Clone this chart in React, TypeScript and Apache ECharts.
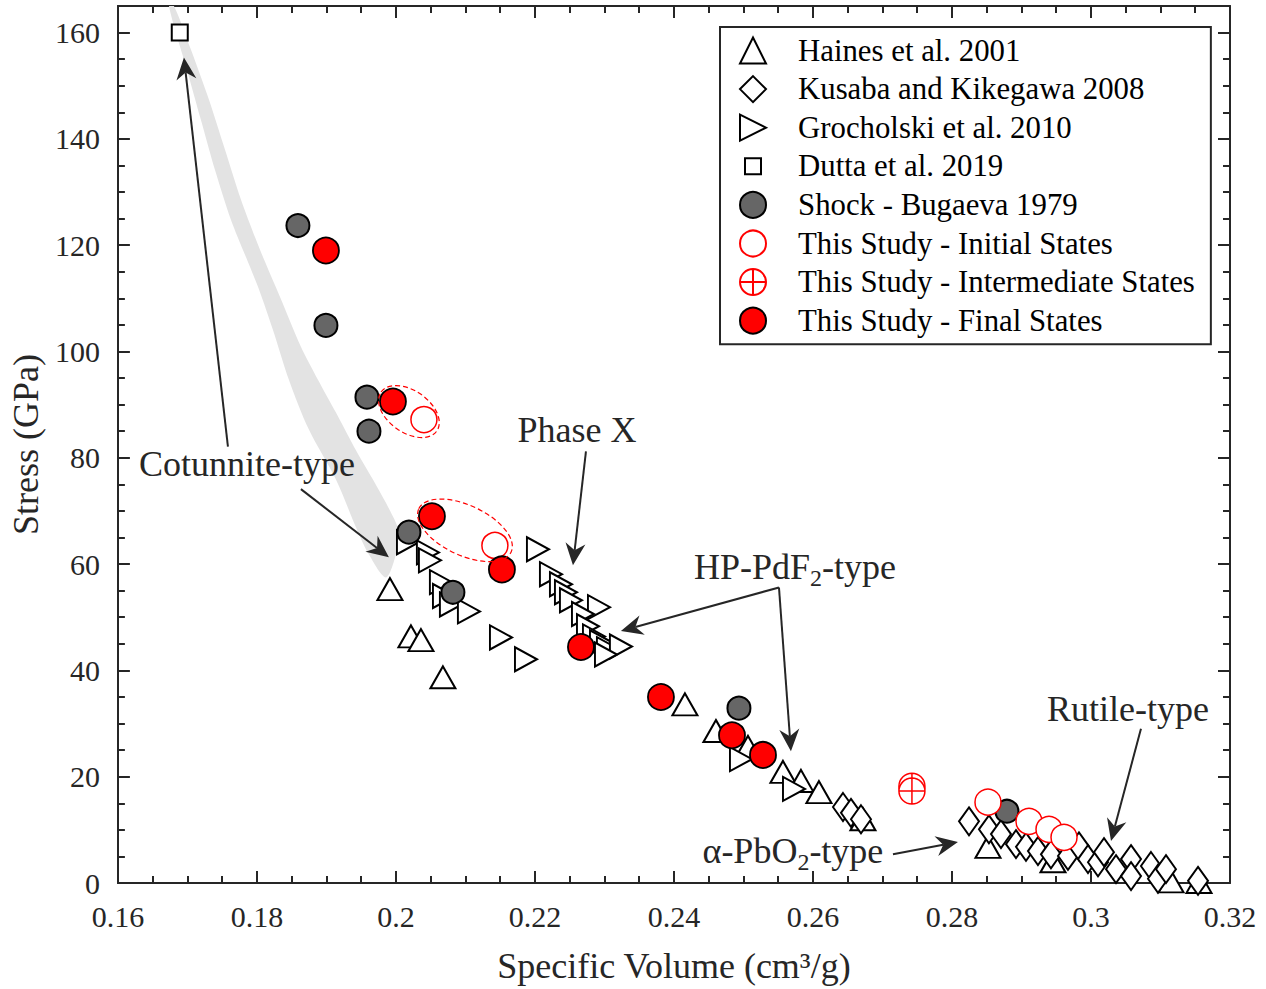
import React, { useEffect, useRef } from 'react';
import * as echarts from 'echarts';

const FONT = '"Liberation Serif", "Times New Roman", serif';
const AX = '#262626';

// ---- data (specific volume cm3/g, stress GPa) ----
const hainesData = [
  [0.19914, 55.3], [0.20216, 46.4], [0.2036, 45.7], [0.20676, 38.7],
  [0.24158, 33.6], [0.24604, 28.6], [0.25065, 25.6], [0.25568, 20.9],
  [0.25827, 19.2], [0.26086, 17.1], [0.26719, 12.0], [0.28518, 6.8],
  [0.29453, 4.1], [0.31151, 0.3], [0.31554, 0.2],
];
const kusabaData = [
  [0.26432, 14.3], [0.26547, 13.2], [0.26691, 12.0],
  [0.28245, 11.6], [0.28532, 10.1], [0.28705, 9.2], [0.28921, 7.3],
  [0.29065, 6.8], [0.29237, 6.0], [0.29424, 5.4], [0.29669, 5.1],
  [0.29827, 6.9], [0.29957, 4.5], [0.30101, 3.9], [0.30187, 5.8],
  [0.3036, 2.6], [0.30576, 4.5], [0.30576, 1.3], [0.30863, 3.2],
  [0.30964, 0.8], [0.31079, 2.6], [0.3154, 0.4],
];
const grocholskiData = [
  [0.20173, 64.1], [0.2046, 62.2], [0.20489, 60.7], [0.20647, 56.6],
  [0.20691, 54.0], [0.20791, 52.4], [0.2105, 51.1], [0.21511, 46.2],
  [0.21871, 42.1], [0.22043, 62.8], [0.2223, 58.1], [0.22374, 56.2],
  [0.22446, 54.7], [0.22518, 53.2], [0.22921, 51.9], [0.22691, 50.6],
  [0.22763, 48.3], [0.22849, 46.4], [0.2295, 45.3], [0.2305, 44.0],
  [0.23237, 44.5], [0.23022, 43.0], [0.24964, 23.3], [0.25727, 17.7],
];
const duttaData = [[0.1689, 160.0]];
const shockData = [
  [0.1859, 123.7], [0.18993, 104.9], [0.19583, 91.4], [0.19612, 85.0],
  [0.20187, 66.0], [0.2082, 54.7], [0.24935, 32.9], [0.28791, 13.5],
];
const initialData = [
  [0.20403, 87.2], [0.21424, 63.5], [0.28518, 15.2], [0.29108, 11.6],
  [0.29396, 10.1], [0.29612, 8.6],
];
const intermediateData = [[0.27424, 18.2], [0.27424, 17.3]];
const finalData = [
  [0.18993, 119.0], [0.19957, 90.6], [0.20518, 69.0], [0.21525, 59.0],
  [0.22662, 44.4], [0.23813, 35.0], [0.24835, 27.8], [0.25281, 24.1],
];

// grey cotunnite band (edges)
const shadeLeft = [
  [0.16734, 165.0], [0.16993, 153.0], [0.17194, 143.6], [0.17396, 134.2],
  [0.17626, 124.8], [0.17885, 116.4], [0.18029, 111.7], [0.1823, 104.1],
  [0.1846, 94.7], [0.18748, 85.3], [0.19137, 75.9], [0.19439, 66.5],
  [0.19612, 61.8], [0.19856, 57.5],
];
const shadeRight = [
  [0.16806, 165.0], [0.1705, 156.8], [0.17309, 147.4], [0.1754, 138.0],
  [0.1777, 128.6], [0.18043, 119.2], [0.18331, 110.3], [0.18633, 100.9],
  [0.18878, 94.7], [0.19137, 88.5], [0.19396, 82.1], [0.19669, 75.9],
  [0.19928, 69.7], [0.20043, 66.0], [0.2, 61.8],
];

const xTicks = { min: 0.16, max: 0.32, interval: 0.02 };
const yTicks = { min: 0, max: 165, interval: 20, minor: 5 };

const legendNames = [
  'Haines et al. 2001',
  'Kusaba and Kikegawa 2008',
  'Grocholski et al. 2010',
  'Dutta et al. 2019',
  'Shock - Bugaeva 1979',
  'This Study - Initial States',
  'This Study - Intermediate States',
  'This Study - Final States',
];

// annotations (data coordinates)
const arrows = [
  { from: [0.17583, 82.1], to: [0.1695, 155.3] },
  { from: [0.18633, 74.1], to: [0.19899, 61.3] },
  { from: [0.22734, 81.2], to: [0.22547, 59.8] },
  { from: [0.25511, 55.6], to: [0.23237, 47.4] },
  { from: [0.25511, 55.6], to: [0.25683, 24.8] },
  { from: [0.30719, 29.0], to: [0.30288, 7.9] },
  { from: [0.27151, 5.4], to: [0.28086, 7.7] },
];
const labels = [
  { pos: [0.17856, 78.8], text: '{a|Cotunnite-type}' },
  { pos: [0.22604, 85.3], text: '{a|Phase X}' },
  { pos: [0.25741, 59.4], text: '{a|HP-PdF}{s|2}{a|-type}' },
  { pos: [0.25712, 6.0], text: '{a|α-PbO}{s|2}{a|-type}' },
  { pos: [0.30532, 32.7], text: '{a|Rutile-type}' },
];
const ellipses = [
  { center: [0.20187, 88.7], rx: 34, ry: 21, angle: 35 },
  { center: [0.20993, 66.35], rx: 51, ry: 25, angle: 25 },
];

const RIGHT_TRI = 'path://M0,0L1,0.5L0,1Z';
const CIRCLE_PLUS =
  'path://M0,12A12,12 0 1,1 24,12A12,12 0 1,1 0,12Z M12,0L12,24 M0,12L24,12';
const SMALL_SQUARE = 'path://M-5,-5M0,0L16,0L16,16L0,16Z M21,21';

function scatter(name: string, data: number[][], symbol: string, size: any, fill: string, stroke: string, bw: number) {
  return {
    type: 'scatter',
    name,
    data,
    symbol,
    symbolSize: size,
    itemStyle: { color: fill, borderColor: stroke, borderWidth: bw, opacity: 1 },
    emphasis: { disabled: true },
    silent: true,
    z: 3,
  };
}

function yAxisDef(position: string, interval: number, tickLen: number, main: boolean) {
  return {
    type: 'value',
    position,
    min: yTicks.min,
    max: yTicks.max,
    interval,
    axisLine: { show: main, onZero: false, lineStyle: { color: AX, width: 2 } },
    axisTick: { show: true, inside: true, length: tickLen, lineStyle: { color: AX, width: 2 } },
    axisLabel: {
      show: main && position === 'left',
      showMaxLabel: false,
      margin: 18,
      fontFamily: FONT,
      fontSize: 30,
      color: AX,
    },
    splitLine: { show: false },
    ...(main && position === 'left'
      ? {
          name: 'Stress (GPa)',
          nameLocation: 'middle',
          nameGap: 71,
          nameTextStyle: { fontFamily: FONT, fontSize: 36, color: AX },
        }
      : {}),
  };
}

function xAxisDef(position: string) {
  const bottom = position === 'bottom';
  return {
    type: 'value',
    position,
    min: xTicks.min,
    max: xTicks.max,
    interval: xTicks.interval,
    axisLine: { show: true, onZero: false, lineStyle: { color: AX, width: 2 } },
    axisTick: { show: true, inside: true, length: 12, lineStyle: { color: AX, width: 2 } },
    minorTick: { show: true, splitNumber: 4, length: 7, lineStyle: { color: AX, width: 2 } },
    axisLabel: {
      show: bottom,
      margin: 18,
      fontFamily: FONT,
      fontSize: 30,
      color: AX,
      formatter: (v: number) => String(+v.toFixed(3)),
    },
    splitLine: { show: false },
    ...(bottom
      ? {
          name: 'Specific Volume (cm³/g)',
          nameLocation: 'middle',
          nameGap: 65,
          nameTextStyle: { fontFamily: FONT, fontSize: 36, color: AX },
        }
      : {}),
  };
}

export default function App() {
  const ref = useRef<HTMLDivElement>(null);
  useEffect(() => {
    document.body.style.margin = '0';
    const chart = echarts.init(ref.current!, null, { renderer: 'svg' });
    const option: any = {
      animation: false,
      backgroundColor: '#ffffff',
      grid: { left: 117, right: 36, top: 6, bottom: 105, containLabel: false },
      xAxis: [xAxisDef('bottom'), xAxisDef('top')],
      yAxis: [
        yAxisDef('left', yTicks.interval, 12, true),
        yAxisDef('left', yTicks.minor, 7, false),
        yAxisDef('right', yTicks.interval, 12, true),
        yAxisDef('right', yTicks.minor, 7, false),
      ],
      legend: {
        orient: 'vertical',
        left: 720,
        top: 27,
        padding: [8, 16, 8, 19],
        itemGap: 7.6,
        itemWidth: 26,
        itemHeight: 26,
        borderColor: AX,
        borderWidth: 2,
        backgroundColor: '#ffffff',
        selectedMode: false,
        textStyle: { fontFamily: FONT, fontSize: 30.8, color: '#000', padding: [0, 0, 0, 27] },
        data: [
          { name: legendNames[0], icon: 'triangle' },
          { name: legendNames[1], icon: 'diamond' },
          { name: legendNames[2], icon: RIGHT_TRI },
          { name: legendNames[3], icon: SMALL_SQUARE },
          { name: legendNames[4], icon: 'circle' },
          { name: legendNames[5], icon: 'circle' },
          { name: legendNames[6], icon: CIRCLE_PLUS },
          { name: legendNames[7], icon: 'circle' },
        ],
      },
      series: [
        {
          type: 'custom',
          name: 'shade',
          silent: true,
          z: 1,
          clip: true,
          data: [[0.18, 100]],
          renderItem: (_p: any, api: any) => {
            const pts = shadeLeft.concat([...shadeRight].reverse()).map((p) => api.coord(p));
            return { type: 'polygon', shape: { points: pts, smooth: 0.3 }, style: { fill: '#e3e3e3' } };
          },
        },
        scatter(legendNames[0], hainesData, 'triangle', [25, 22], '#ffffff', '#000000', 2),
        scatter(legendNames[1], kusabaData, 'diamond', [20, 28], '#ffffff', '#000000', 2),
        scatter(legendNames[2], grocholskiData, RIGHT_TRI, [22, 24], '#ffffff', '#000000', 2),
        scatter(legendNames[3], duttaData, 'rect', 16, '#ffffff', '#000000', 2),
        scatter(legendNames[4], shockData, 'circle', 23, '#666666', '#000000', 2),
        scatter(legendNames[5], initialData, 'circle', 26, '#ffffff', '#ff0000', 1.5),
        scatter(legendNames[6], intermediateData, CIRCLE_PLUS, 26, '#ffffff', '#ff0000', 1.5),
        scatter(legendNames[7], finalData, 'circle', 26, '#ff0000', '#000000', 1.8),
      ],
    };
    chart.setOption(option);

    const toPx = (p: number[]) =>
      chart.convertToPixel({ xAxisIndex: 0, yAxisIndex: 0 }, p) as number[];
    const graphics: any[] = [];
    arrows.forEach((a) => {
      const p0 = toPx(a.from);
      const p1 = toPx(a.to);
      const dx = p1[0] - p0[0];
      const dy = p1[1] - p0[1];
      const len = Math.hypot(dx, dy);
      const ux = dx / len;
      const uy = dy / len;
      const nx = -uy;
      const ny = ux;
      const L = 22;
      const W = 10;
      const N = 7;
      const back = [p1[0] - ux * L, p1[1] - uy * L];
      const notch = [p1[0] - ux * (L - N), p1[1] - uy * (L - N)];
      graphics.push({
        type: 'line',
        z: 10,
        silent: true,
        shape: { x1: p0[0], y1: p0[1], x2: notch[0], y2: notch[1] },
        style: { stroke: AX, lineWidth: 2 },
      });
      graphics.push({
        type: 'polygon',
        z: 10,
        silent: true,
        shape: {
          points: [p1, [back[0] + nx * W, back[1] + ny * W], notch, [back[0] - nx * W, back[1] - ny * W]],
        },
        style: { fill: AX },
      });
    });
    labels.forEach((l) => {
      const p = toPx(l.pos);
      graphics.push({
        type: 'text',
        z: 11,
        silent: true,
        x: p[0],
        y: p[1],
        style: {
          text: l.text,
          align: 'center',
          verticalAlign: 'middle',
          fill: AX,
          rich: {
            a: { fontFamily: FONT, fontSize: 36, fill: AX, color: AX },
            s: { fontFamily: FONT, fontSize: 24, fill: AX, color: AX, padding: [22, 0, 0, 0] },
          },
        },
      });
    });
    ellipses.forEach((e) => {
      const p = toPx(e.center);
      graphics.push({
        type: 'ellipse',
        z: 9,
        silent: true,
        x: p[0],
        y: p[1],
        rotation: (-e.angle * Math.PI) / 180,
        shape: { cx: 0, cy: 0, rx: e.rx, ry: e.ry },
        style: { fill: 'none', stroke: '#ff0000', lineWidth: 1.2, lineDash: [5, 3] },
      });
    });
    chart.setOption({ graphic: graphics });

    return () => chart.dispose();
  }, []);
  return (
    <div
      ref={ref}
      style={{ position: 'fixed', left: 0, top: 0, width: 1266, height: 989, background: '#fff' }}
    />
  );
}
